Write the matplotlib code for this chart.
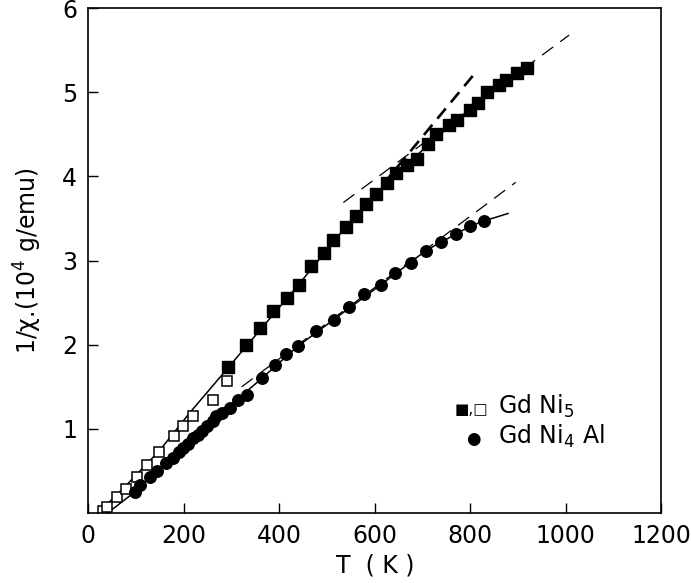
import numpy as np
import matplotlib.pyplot as plt

# GdNi5, filled squares (high T)
t_ni5 = [293, 329, 359, 386, 415, 441, 466, 493, 513, 539, 560, 581, 602, 626,
         644, 668, 689, 712, 729, 755, 772, 799, 816, 835, 860, 874, 897, 918]
y_ni5 = [1.73, 2.00, 2.20, 2.40, 2.56, 2.71, 2.93, 3.09, 3.25, 3.40, 3.53, 3.67,
         3.79, 3.92, 4.04, 4.14, 4.21, 4.39, 4.50, 4.61, 4.67, 4.79, 4.87, 5.00,
         5.09, 5.15, 5.23, 5.29]

# GdNi5, open squares (low T)
t_ni5_low = [30, 39, 59, 79, 101, 123, 148, 179, 199, 218, 260, 291]
y_ni5_low = [0.02, 0.07, 0.19, 0.29, 0.43, 0.57, 0.73, 0.91, 1.03, 1.15, 1.34, 1.57]

# GdNi4Al, circles
t_al = [97, 108, 129, 144, 162, 178, 190, 199, 209, 219, 229, 237, 248, 260, 268,
        279, 296, 314, 333, 363, 391, 413, 438, 477, 514, 546, 577, 612, 643, 675,
        707, 738, 769, 800, 828]
y_al = [0.25, 0.33, 0.43, 0.50, 0.59, 0.65, 0.73, 0.77, 0.82, 0.89, 0.93, 0.98,
        1.04, 1.09, 1.15, 1.19, 1.25, 1.34, 1.40, 1.60, 1.76, 1.89, 1.98, 2.16,
        2.30, 2.45, 2.60, 2.71, 2.85, 2.97, 3.12, 3.22, 3.32, 3.41, 3.47]

# solid guide curves
fit_ni5_t = [20, 76, 150, 212, 293, 441, 539, 626, 668, 712, 772, 835, 918]
fit_ni5_y = [0.0, 0.31, 0.75, 1.19, 1.73, 2.72, 3.40, 3.93, 4.14, 4.38, 4.67, 4.98, 5.29]
fit_al_t = [40, 97, 129, 199, 279, 363, 438, 514, 612, 707, 800, 828, 879]
fit_al_y = [0.0, 0.25, 0.43, 0.77, 1.19, 1.60, 1.98, 2.30, 2.71, 3.12, 3.41, 3.47, 3.56]

# dashed straight lines (end points)
steep_t = [590, 813]
steep_y = [3.72, 5.25]
shallow_t = [534, 1007]
shallow_y = [3.69, 5.68]
al_dash_t = [321, 895]
al_dash_y = [1.50, 3.93]

fig = plt.figure(figsize=(6.91, 5.83), dpi=100)
ax = fig.add_axes([0.128, 0.120, 0.829, 0.866])

ax.plot(fit_ni5_t, fit_ni5_y, color='black', lw=1.1)
ax.plot(fit_al_t, fit_al_y, color='black', lw=1.1)
ax.plot(steep_t, steep_y, color='black', lw=1.9, dashes=(5, 3))
ax.plot(shallow_t, shallow_y, color='black', lw=0.9, dashes=(11, 7))
ax.plot(al_dash_t, al_dash_y, color='black', lw=0.9, dashes=(11, 7))

ax.plot(t_ni5, y_ni5, 's', color='black', ms=8.8, ls='none')
ax.plot(t_ni5_low, y_ni5_low, 's', mfc='white', mec='black', mew=1.1, ms=7, ls='none')
ax.plot(t_al, y_al, 'o', color='black', ms=8.3, ls='none')

ax.set_xlim(0, 1200)
ax.set_ylim(0, 6)
ax.set_xticks([0, 200, 400, 600, 800, 1000, 1200])
ax.set_yticks([1, 2, 3, 4, 5, 6])
ax.tick_params(direction='in', length=7, width=1, labelsize=17, pad=8)

ax.set_xlabel('T  ( K )', fontsize=17, labelpad=4)
ax.set_ylabel('1/χ.(10$^{4}$ g/emu)', fontsize=17, labelpad=13)

# legend drawn as text
ax.text(0.64, 0.197, '■,□', fontsize=11, transform=ax.transAxes, va='baseline')
ax.text(0.7145, 0.197, 'Gd Ni$_5$', fontsize=17, transform=ax.transAxes, va='baseline')
ax.text(0.66, 0.137, '●', fontsize=12, transform=ax.transAxes, va='baseline')
ax.text(0.7145, 0.137, 'Gd Ni$_4$ Al', fontsize=17, transform=ax.transAxes, va='baseline')

for s in ax.spines.values():
    s.set_linewidth(1.2)

fig.savefig('out.png', dpi=100)
